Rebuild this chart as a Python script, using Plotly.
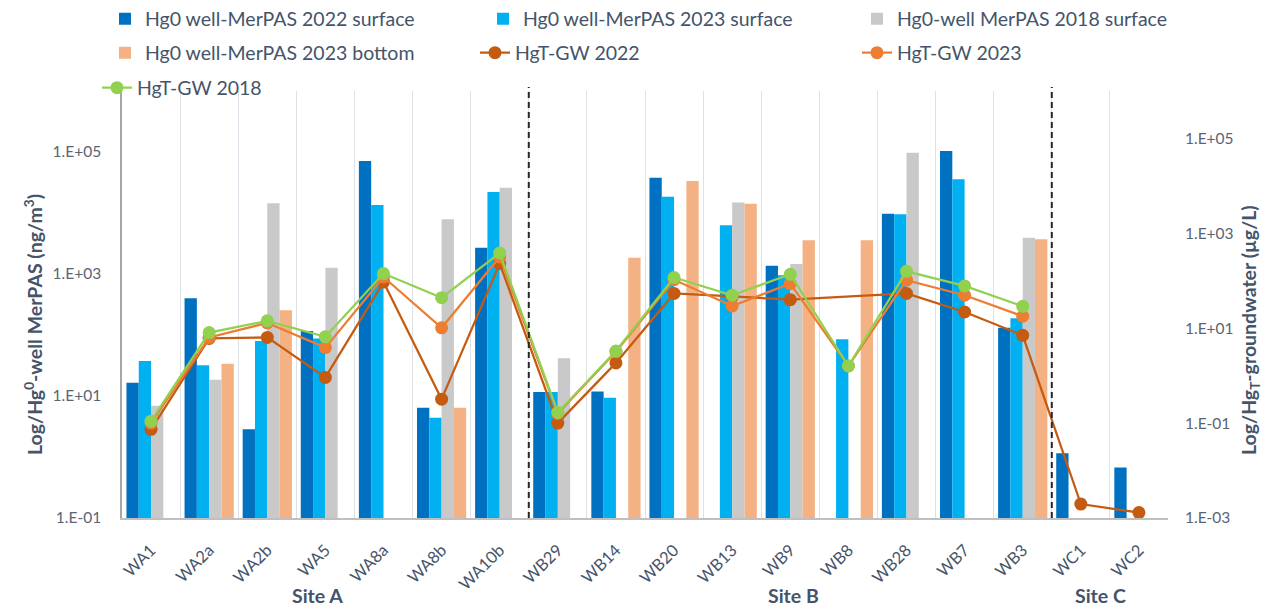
import plotly.graph_objects as go

# Monitoring wells
wells = ["WA1", "WA2a", "WA2b", "WA5", "WA8a", "WA8b", "WA10b",
         "WB29", "WB14", "WB20", "WB13", "WB9", "WB8", "WB28", "WB7", "WB3",
         "WC1", "WC2"]

# Hg0 in well headspace, MerPAS (ng/m3)
merpas_2022_surface = [16.5, 400, 2.85, 116, 71000, 6.4, 2700,
                       11.6, 11.9, 37900, None, 1370, None, 9750, 104000, 132,
                       1.15, 0.67]
merpas_2023_surface = [37.5, 31.9, 79.8, 88, 13500, 4.4, 22100,
                       11.6, 9.4, 18500, 6280, 950, 85, 9500, 35600, 188,
                       None, None]
merpas_2018_surface = [6.9, 18.5, 14400, 1270, None, 7900, 26000,
                       41.5, None, None, 14800, 1460, None, 97500, None, 3940,
                       None, None]
merpas_2023_bottom = [None, 33.9, 254, None, None, 6.4, None,
                      None, 1850, 33500, 14200, 3570, 3570, None, None, 3700,
                      None, None]

# Total Hg in groundwater (ug/L)
hgt_gw_2022 = [0.074, 6.1, 6.4, 0.92, 94, 0.32, 230,
               0.10, 1.86, 54, 47, 40, None, 54, 22, 7.1,
               0.00197, 0.0013]
hgt_gw_2023 = [0.1, 6.4, 12.9, 3.9, 120, 10.2, 318,
               0.16, 3.2, 105, 29.5, 87, 1.6, 103, 49.5, 17.9,
               None, None]
hgt_gw_2018 = [0.11, 8.1, 14.3, 6.6, 142, 44, 385,
               0.168, 3.3, 117, 49.5, 137, 1.6, 158, 78, 29,
               None, None]

left_ticks = [0.1, 10, 1000, 100000]
left_ticktext = ["1.E-01", "1.E+01", "1.E+03", "1.E+05"]
right_ticks = [0.001, 0.1, 10, 1000, 100000]
right_ticktext = ["1.E-03", "1.E-01", "1.E+01", "1.E+03", "1.E+05"]

sites = ["Site A", "Site B", "Site C"]
site_px = [317, 793, 1100]

FONT = "Lato"
TXT = "#44546A"
TICK = "#5A6474"

# plot-area geometry in pixels
PL, PR, PT, PB = 122, 1168, 91, 518


def px_x(px):
    return (px - PL) / (PR - PL)


def px_y(py):
    return (PB - py) / (PB - PT)


fig = go.Figure()

bar_series = [
    ("Hg0 well-MerPAS 2022 surface", merpas_2022_surface, "#0070C0", "legend"),
    ("Hg0 well-MerPAS 2023 surface", merpas_2023_surface, "#00B0F0", "legend2"),
    ("Hg0-well MerPAS 2018 surface", merpas_2018_surface, "#C9C9C9", "legend3"),
    ("Hg0 well-MerPAS 2023 bottom", merpas_2023_bottom, "#F4B183", "legend4"),
]
for name, vals, col, lg in bar_series:
    fig.add_trace(go.Bar(x=wells, y=vals, name=name, marker_color=col,
                         marker_line_width=0, yaxis="y", legend=lg,
                         showlegend=True))

line_series = [
    ("HgT-GW 2022", hgt_gw_2022, "#C55A11", "legend5"),
    ("HgT-GW 2023", hgt_gw_2023, "#ED7D31", "legend6"),
    ("HgT-GW 2018", hgt_gw_2018, "#92D050", "legend7"),
]
for name, vals, col, lg in line_series:
    fig.add_trace(go.Scatter(x=wells, y=vals, name=name, mode="lines+markers",
                             line=dict(color=col, width=2.25),
                             marker=dict(color=col, size=13),
                             connectgaps=True, yaxis="y2", legend=lg,
                             showlegend=True))

# one legend per entry, laid out in three columns (left edge px, centre y px)
legend_slots = {
    "legend": (105, 19), "legend2": (483, 19), "legend3": (857, 19),
    "legend4": (105, 53), "legend5": (475, 53), "legend6": (857, 53),
    "legend7": (97, 88),
}
legend_layout = {}
for key, (lx, ly) in legend_slots.items():
    legend_layout[key] = dict(x=px_x(lx), y=px_y(ly), xanchor="left",
                              yanchor="middle", bgcolor="rgba(0,0,0,0)",
                              borderwidth=0,
                              font=dict(family=FONT, size=19.5, color=TXT))

annotations = [
    dict(text="<b>Log/Hg<sup>0</sup>-well MerPAS (ng/m<sup>3</sup>)</b>",
         x=px_x(33), y=px_y(325), xref="paper", yref="paper", textangle=-90,
         xanchor="center", yanchor="middle",
         showarrow=False, font=dict(family=FONT, size=19.5, color=TXT)),
    dict(text="<b>Log/Hg<sub>T</sub>-groundwater (µg/L)</b>",
         x=px_x(1250), y=px_y(330), xref="paper", yref="paper", textangle=-90,
         xanchor="center", yanchor="middle",
         showarrow=False, font=dict(family=FONT, size=19.5, color=TXT)),
]
for s, sx in zip(sites, site_px):
    annotations.append(dict(text=f"<b>{s}</b>", x=px_x(sx), y=px_y(595),
                            xref="paper", yref="paper", showarrow=False,
                            xanchor="center", yanchor="middle",
                            font=dict(family=FONT, size=19.5, color=TXT)))

# dashed separators between sites
shapes = []
for xb in [6.5, 15.5]:
    shapes.append(dict(type="line", xref="x", yref="paper", x0=xb, x1=xb,
                       y0=0, y1=px_y(87),
                       line=dict(color="#262626", width=2, dash="6px,4px")))

fig.update_layout(
    width=1279, height=607,
    margin=dict(l=PL, r=1279 - PR, t=PT, b=607 - PB, autoexpand=False),
    paper_bgcolor="white", plot_bgcolor="white",
    showlegend=True,
    barmode="group", bargap=0.153, bargroupgap=0,
    font=dict(family=FONT, color=TXT),
    xaxis=dict(type="category", categoryorder="array", categoryarray=wells,
               range=[-0.5, 17.5], tickson="boundaries", showgrid=True,
               gridcolor="#DCE1E8", gridwidth=1, ticks="", showline=True,
               linecolor="#BFBFBF", linewidth=2, tickangle=-45,
               ticklabelstandoff=14,
               tickfont=dict(family=FONT, size=16.5, color=TXT)),
    yaxis=dict(type="log", range=[-1, 6], tickvals=left_ticks,
               ticktext=left_ticktext, showgrid=False, zeroline=False,
               showline=True, linecolor="#A6A6A6", linewidth=1.5, ticks="",
               ticklabelstandoff=16,
               tickfont=dict(family=FONT, size=15.5, color=TICK)),
    yaxis2=dict(type="log", range=[-3, 6], tickvals=right_ticks,
                ticktext=right_ticktext, overlaying="y", side="right",
                showgrid=False, zeroline=False, showline=False, ticks="",
                ticklabelstandoff=16,
                tickfont=dict(family=FONT, size=15.5, color=TICK)),
    annotations=annotations,
    shapes=shapes,
    **legend_layout,
)

fig.write_html("out.html")
